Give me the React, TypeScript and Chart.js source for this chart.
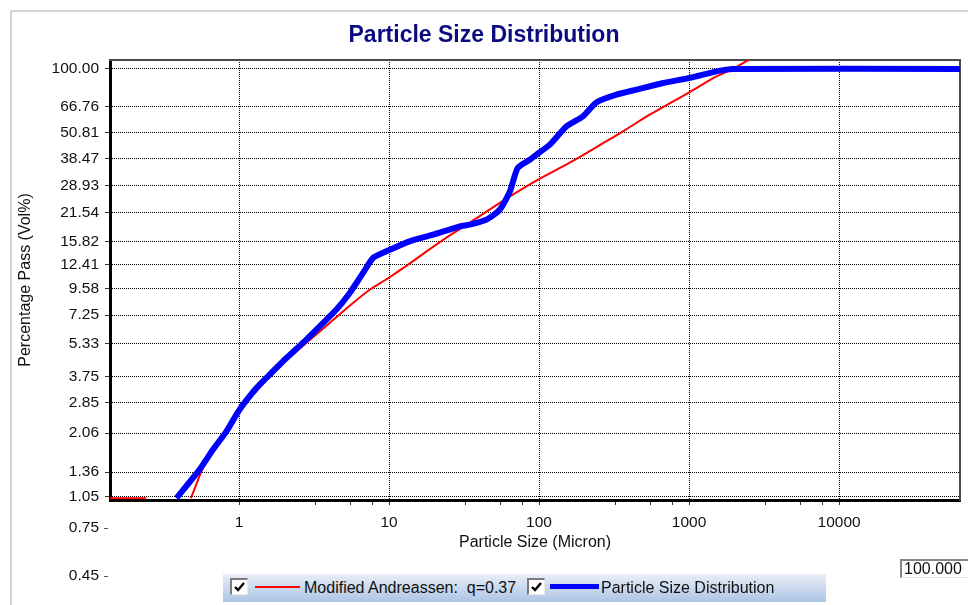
import React, { useEffect, useRef } from "react";
import { Chart, registerables } from "chart.js";

Chart.register(...registerables);

const FONT = "'Liberation Sans', Arial, Helvetica, sans-serif";

// Measured size distribution: particle size (micron) and cumulative % passing
const psdSizes = [
  0.383, 0.547, 0.671, 0.824, 1.01, 1.31, 1.52, 2.07, 2.81, 3.45, 4.46, 5.47,
  6.71, 7.82, 9.61, 13.7, 19.7, 29.6, 34.5, 44.6, 54.7, 63.8, 72.1, 86.7,
  98.5, 118, 152, 196, 241, 328, 446, 671, 1011, 1523, 1964, 64000,
];
const psdPassing = [
  1.03, 1.4, 1.73, 2.1, 2.65, 3.34, 3.71, 4.59, 5.58, 6.43, 7.69, 9.18,
  11.37, 13.33, 14.31, 15.92, 17.09, 18.67, 19.01, 20.06, 22.3, 27.0, 34.8, 38.0,
  40.6, 44.6, 54.1, 60.3, 70.0, 76.0, 80.2, 86.1, 90.9, 97.5, 100, 100,
];

// Modified Andreassen model curve (q = 0.37); the null breaks the line
const fitSizes = [
  0.13, 0.241, 0.3, 0.477, 0.638, 0.824, 1.01, 1.35, 1.78, 3.11, 4.23, 5.75,
  7.43, 9.91, 13.7, 18.2, 25.4, 34.5, 57.5, 98.5, 160, 267, 372, 547, 1011,
  1523, 1964, 2600,
];
const fitPassing = [
  1.03, 1.03, null, 1.03, 1.67, 2.08, 2.62, 3.3, 4.08, 5.72, 6.88, 8.25,
  9.5, 10.77, 12.55, 14.45, 16.95, 19.4, 24.5, 30.7, 36.8, 45.3, 52.0, 61.4, 78.2,
  92.3, 100, 112,
];

// Axis ticks
const yTickValues = [
  1.05, 1.36, 2.06, 2.85, 3.75, 5.33, 7.25, 9.58, 12.41, 15.82, 21.54, 28.93,
  38.47, 50.81, 66.76, 100,
];
const yExtraLabels = [0.75, 0.45];
const xDecades = [1, 10, 100, 1000, 10000];
const xMinorSteps = [3.25, 5.5, 7.75];

const xRange = [0.138, 64000];
const yRange = [1.01, 110];

const xTickValues = [
  ...xDecades,
  ...xDecades.slice(0, -1).flatMap((d) => xMinorSteps.map((m) => d * m)),
].sort((a, b) => a - b);

const legendFit = "Modified Andreassen:  q=0.37";
const legendPsd = "Particle Size Distribution";

// Labels under the plot's lower edge, placed with the y scale
const extraLabelsPlugin = {
  id: "extraLabels",
  afterDraw(chart: any) {
    const { ctx } = chart;
    const yScale = chart.scales.y;
    const left = chart.chartArea.left;
    ctx.save();
    ctx.font = `15.5px ${FONT}`;
    ctx.textAlign = "right";
    ctx.textBaseline = "middle";
    yExtraLabels.forEach((v) => {
      const py = yScale.getPixelForValue(v);
      ctx.fillStyle = "#111";
      ctx.fillText(v.toFixed(2), left - 11, py);
      ctx.fillStyle = "#555";
      ctx.fillRect(left - 6, Math.round(py), 4, 1);
    });
    ctx.restore();
  },
};

function CheckBox({ left }: { left: number }) {
  return (
    <div
      style={{
        position: "absolute",
        left,
        top: 578,
        width: 18,
        height: 17,
        boxSizing: "border-box",
        background: "#fff",
        borderTop: "2px solid #7a7a7a",
        borderLeft: "2px solid #7a7a7a",
        borderRight: "1px solid #e8e8e8",
        borderBottom: "1px solid #e8e8e8",
      }}
    >
      <svg width={14} height={14} style={{ position: "absolute", left: 1, top: 0 }}>
        <polyline points="2,7 5,10 11,3" fill="none" stroke="#000" strokeWidth={2.4} />
      </svg>
    </div>
  );
}

export default function App() {
  const canvasRef = useRef<HTMLCanvasElement>(null);

  useEffect(() => {
    const canvas = canvasRef.current;
    if (!canvas) return;
    const chart = new Chart(canvas, {
      type: "line",
      data: {
        datasets: [
          {
            label: legendFit,
            data: fitSizes.map((x, i) => ({ x, y: fitPassing[i] })) as any,
            borderColor: "#ff0000",
            borderWidth: 2,
            pointRadius: 0,
            tension: 0.3,
            spanGaps: false,
            order: 2,
            clip: 0,
            xAxisID: "x",
            yAxisID: "y",
          },
          {
            label: legendPsd,
            data: psdSizes.map((x, i) => ({ x, y: psdPassing[i] })),
            borderColor: "#0000ff",
            borderWidth: 6,
            pointRadius: 0,
            tension: 0.2,
            order: 1,
            clip: 0,
            xAxisID: "x",
            yAxisID: "y",
          },
        ],
      },
      options: {
        responsive: false,
        animation: false,
        devicePixelRatio: 1,
        events: [],
        layout: { padding: { left: 0, right: 0, top: 0, bottom: 50 } },
        plugins: {
          legend: { display: false },
          tooltip: { enabled: false },
          title: {
            display: true,
            text: "Particle Size Distribution",
            color: "#0b0b80",
            font: { size: 23, weight: "bold", family: FONT },
            padding: { top: 21.5, bottom: 10.9 },
          },
        },
        scales: {
          x: {
            type: "logarithmic",
            position: "bottom",
            min: xRange[0],
            max: xRange[1],
            afterBuildTicks: (s: any) => {
              s.ticks = xTickValues.map((v) => ({ value: v }));
            },
            afterFit: (s: any) => {
              s.height = 55;
            },
            ticks: {
              autoSkip: false,
              maxRotation: 0,
              minRotation: 0,
              padding: 8,
              color: "#111",
              font: { size: 15.5, family: FONT },
              callback: (v: any) => (xDecades.includes(Number(v)) ? String(v) : ""),
            },
            grid: {
              color: (c: any) =>
                c.tick && xDecades.includes(c.tick.value) ? "#000" : "rgba(0,0,0,0)",
              lineWidth: 1,
              tickLength: 5,
              tickColor: "#333",
            },
            border: { display: true, color: "#000", width: 3, dash: [1, 1] },
            title: {
              display: true,
              text: "Particle Size (Micron)",
              color: "#111",
              font: { size: 16, family: FONT },
              padding: { top: 0, bottom: 3 },
            },
          },
          y: {
            type: "logarithmic",
            position: "left",
            min: yRange[0],
            max: yRange[1],
            afterBuildTicks: (s: any) => {
              s.ticks = yTickValues.map((v) => ({ value: v }));
            },
            afterFit: (s: any) => {
              s.width = 110;
            },
            ticks: {
              autoSkip: false,
              padding: 6,
              color: "#111",
              font: { size: 15.5, family: FONT },
              callback: (v: any) => Number(v).toFixed(2),
            },
            grid: { color: "#000", lineWidth: 1, tickLength: 5, tickColor: "#333" },
            border: { display: true, color: "#000", width: 3, dash: [1, 1] },
            title: {
              display: true,
              text: "Percentage Pass (Vol%)",
              color: "#111",
              font: { size: 16, family: FONT },
              padding: { top: 16, bottom: 0 },
            },
          },
          x2: {
            type: "linear",
            position: "top",
            grid: { display: false },
            ticks: { display: false },
            border: { display: true, color: "#4a4a4a", width: 2 },
            afterFit: (s: any) => {
              s.height = 0;
            },
          },
          y2: {
            type: "linear",
            position: "right",
            grid: { display: false },
            ticks: { display: false },
            border: { display: true, color: "#4a4a4a", width: 2 },
            afterFit: (s: any) => {
              s.width = 8;
            },
          },
        },
      } as any,
      plugins: [extraLabelsPlugin],
    });
    return () => chart.destroy();
  }, []);

  return (
    <div
      style={{
        position: "absolute",
        left: 0,
        top: 0,
        width: 968,
        height: 605,
        overflow: "hidden",
        background: "#fff",
        fontFamily: FONT,
      }}
    >
      <div
        style={{
          position: "absolute",
          left: 10,
          top: 10,
          width: 980,
          height: 620,
          borderLeft: "2px solid #d4d4d4",
          borderTop: "2px solid #d4d4d4",
        }}
      />
      <canvas
        ref={canvasRef}
        width={968}
        height={605}
        style={{ position: "absolute", left: 0, top: 0, width: 968, height: 605 }}
      />
      <div
        style={{
          position: "absolute",
          left: 223,
          top: 574,
          width: 603,
          height: 28,
          background: "linear-gradient(#e8eef7, #adc4e5)",
        }}
      />
      <CheckBox left={230} />
      <div style={{ position: "absolute", left: 255, top: 586, width: 45, height: 2, background: "#ff0000" }} />
      <div
        style={{
          position: "absolute",
          left: 304,
          top: 579,
          height: 18,
          lineHeight: "18px",
          fontSize: 16,
          color: "#111",
          whiteSpace: "pre",
        }}
      >
        {legendFit}
      </div>
      <CheckBox left={527} />
      <div style={{ position: "absolute", left: 550, top: 584, width: 49, height: 5, background: "#0000ff" }} />
      <div
        style={{
          position: "absolute",
          left: 601,
          top: 579,
          height: 18,
          lineHeight: "18px",
          fontSize: 16,
          color: "#111",
          whiteSpace: "pre",
        }}
      >
        {legendPsd}
      </div>
      <div
        style={{
          position: "absolute",
          left: 900,
          top: 559,
          width: 80,
          height: 19,
          boxSizing: "border-box",
          background: "#fff",
          borderTop: "2px solid #858585",
          borderLeft: "2px solid #858585",
          borderBottom: "1px solid #e0e0e0",
          paddingLeft: 2,
          lineHeight: "15px",
          fontSize: 16,
          color: "#111",
        }}
      >
        100.000
      </div>
    </div>
  );
}
